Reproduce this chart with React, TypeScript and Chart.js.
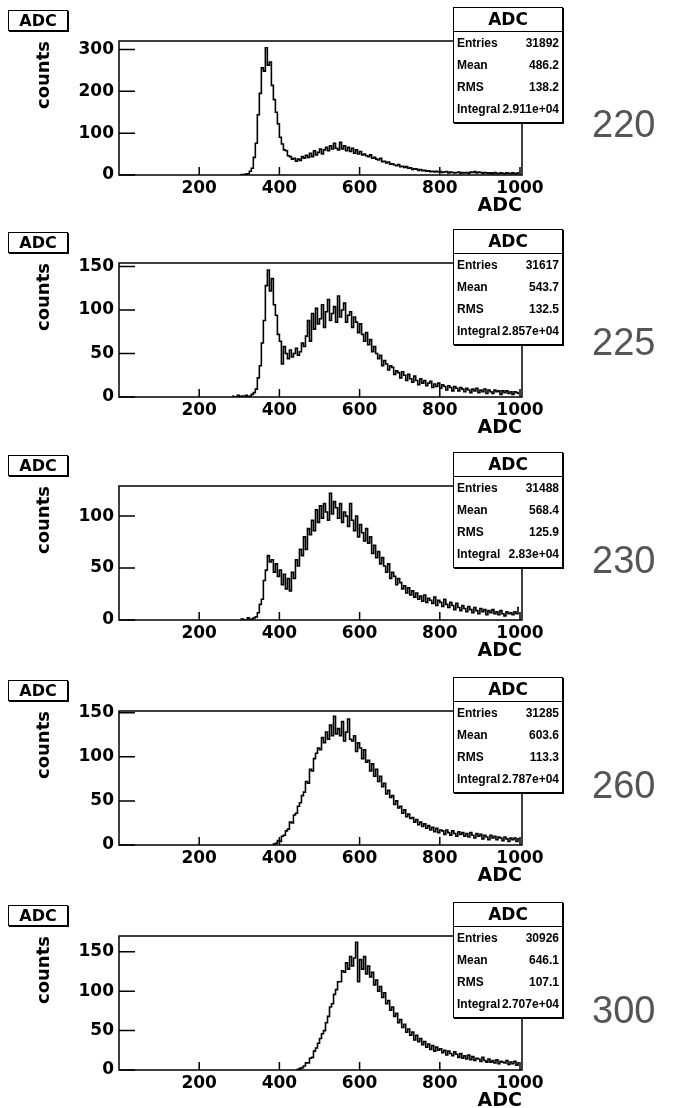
import React, { useEffect, useRef } from "react";
import { Chart, registerables } from "chart.js";

Chart.register(...registerables);

// ---------- data ----------
const BIN_WIDTH = 5;
const X_MIN = 0;
const X_MAX = 1005;
const xTickValues = [200, 400, 600, 800, 1000];

const energies = ["220", "225", "230", "260", "300"];
const entries = ["31892", "31617", "31488", "31285", "30926"];
const means = ["486.2", "543.7", "568.4", "603.6", "646.1"];
const rmsValues = ["138.2", "132.5", "125.9", "113.3", "107.1"];
const integrals = ["2.911e+04", "2.857e+04", "2.83e+04", "2.787e+04", "2.707e+04"];

const yMaxes = [320, 154, 129, 152, 170];
const yTicks220 = [0, 100, 200, 300];
const yTicks225 = [0, 50, 100, 150];
const yTicks230 = [0, 50, 100];
const yTicks260 = [0, 50, 100, 150];
const yTicks300 = [0, 50, 100, 150];

const start220 = 300;
const counts220 = [
  0, 1, 0, 2,
  3, 9, 16, 42, 76, 144, 195, 256,
  248, 304, 262, 270, 214, 180, 150, 122,
  90, 74, 60, 58, 46, 44, 38, 40,
  33, 38, 35, 44, 40, 47, 42, 52,
  44, 58, 48, 54, 62, 50, 60, 66,
  58, 70, 62, 76, 64, 60, 78, 62,
  70, 58, 66, 56, 64, 52, 60, 50,
  56, 48, 50, 46, 44, 48, 40, 42,
  38, 36, 40, 32, 33, 29, 31, 26,
  27, 24, 22, 25, 20, 21, 18, 20,
  16, 17, 13, 15, 14, 11, 13, 10,
  11, 9, 10, 8, 9, 7, 9, 7,
  8, 6, 7, 8, 5, 7, 6, 5,
  6, 7, 4, 6, 5, 6, 4, 7,
  6, 8, 5, 7, 6, 4, 6, 5,
  4, 5, 3, 6, 4, 3, 5, 4,
  3, 5, 4, 3, 5, 3, 4, 5,
];

const start225 = 280;
const counts225 = [
  1, 0, 0, 2, 0, 1, 0, 2,
  0, 1, 3, 5, 9, 22, 36, 62,
  88, 128, 146, 122, 136, 106, 94, 72,
  64, 38, 58, 50, 44, 54, 46, 50,
  56, 48, 52, 62, 58, 70, 88, 64,
  96, 78, 102, 84, 90, 106, 80, 98,
  112, 88, 96, 104, 86, 116, 92, 100,
  108, 86, 94, 98, 80, 92, 86, 74,
  84, 72, 64, 74, 60, 66, 52, 58,
  50, 44, 48, 36, 42, 38, 31, 36,
  34, 26, 30, 28, 22, 29, 25, 19,
  26, 21, 17, 24, 19, 14, 21, 16,
  19, 13, 16, 18, 11, 15, 12, 16,
  10, 14, 12, 8, 13, 11, 7, 12,
  10, 7, 11, 9, 6, 10, 8, 5,
  9, 7, 10, 5, 8, 6, 9, 4,
  8, 6, 4, 8, 6, 7, 3, 7,
  5, 7, 4, 6, 3, 6, 5, 4,
];

const start230 = 300;
const counts230 = [
  0, 1, 0, 0, 2, 0, 1, 2,
  3, 7, 15, 20, 38, 48, 62, 56,
  58, 46, 54, 42, 48, 34, 44, 30,
  40, 28, 46, 40, 58, 52, 68, 62,
  80, 68, 88, 82, 96, 86, 106, 94,
  110, 98, 112, 104, 96, 122, 102, 114,
  108, 98, 112, 94, 104, 100, 90, 112,
  96, 86, 100, 80, 92, 84, 76, 88,
  74, 80, 64, 72, 60, 66, 54, 60,
  52, 46, 54, 40, 46, 42, 34, 40,
  36, 30, 33, 26, 31, 24, 28, 22,
  26, 20, 23, 18, 24, 17, 21, 19,
  16, 22, 14, 19, 17, 13, 20, 15,
  12, 17, 14, 10, 16, 12, 9, 14,
  11, 8, 13, 10, 7, 12, 9, 6,
  11, 8, 10, 5, 9, 7, 10, 6,
  8, 5, 9, 6, 4, 8, 6, 7,
  5, 8, 6, 12,
];

const start260 = 380;
const counts260 = [
  0, 1, 2, 5, 4, 10, 11, 16,
  18, 26, 25, 34, 36, 44, 48, 56,
  60, 72, 70, 86, 84, 98, 104, 110,
  108, 122, 116, 128, 120, 136, 124, 146,
  126, 132, 124, 140, 118, 128, 143, 120,
  118, 124, 106, 116, 110, 98, 108, 94,
  96, 84, 92, 78, 86, 72, 78, 66,
  70, 58, 62, 54, 56, 46, 50, 42,
  44, 36, 40, 32, 35, 30, 31, 26,
  29, 23, 26, 21, 24, 19, 22, 17,
  20, 15, 19, 14, 17, 16, 12, 17,
  14, 11, 16, 13, 10, 15, 12, 14,
  10, 13, 9, 14, 11, 8, 13, 10,
  12, 7, 11, 9, 6, 11, 8, 10,
  6, 9, 8, 5, 9, 7, 4, 8,
  6, 8, 4, 7,
];

const start300 = 440;
const counts300 = [
  0, 1, 2, 3, 5, 9, 9, 15,
  16, 24, 28, 34, 40, 46, 50, 60,
  68, 80, 84, 96, 102, 112, 112, 126,
  124, 136, 128, 144, 132, 142, 162, 112,
  140, 128, 144, 122, 132, 118, 124, 108,
  114, 100, 106, 92, 98, 84, 88, 76,
  80, 68, 72, 60, 64, 54, 58, 48,
  52, 44, 48, 38, 44, 36, 40, 32,
  36, 29, 33, 26, 31, 24, 29, 25,
  27, 22, 25, 19, 24, 21, 18, 23,
  20, 16, 21, 15, 18, 14, 19, 13,
  17, 12, 15, 14, 11, 16, 12, 10,
  14, 10, 12, 9, 13, 8, 11, 10,
  9, 12, 7, 10, 8, 11, 6, 9,
];

const starts = [start220, start225, start230, start260, start300];
const countsList = [counts220, counts225, counts230, counts260, counts300];
const yTicksList = [yTicks220, yTicks225, yTicks230, yTicks260, yTicks300];

// ---------- layout ----------
const PAGE_W = 673;
const PAGE_H = 1108;
const CANVAS_H = 224;
const panelTops = [0, 222, 445, 670, 895];
const numberTops = [105, 101, 96, 96, 96];

const AXIS_FONT = "'DejaVu Sans', 'Liberation Sans', Arial, sans-serif";
const STAT_FONT = "'Liberation Sans', Arial, Helvetica, sans-serif";

const framePlugin = {
  id: "rootFrame",
  afterDatasetsDraw(chart: any) {
    const { ctx, chartArea } = chart;
    const xs = chart.scales.x;
    const ys = chart.scales.y;
    ctx.save();
    ctx.strokeStyle = "#000";
    ctx.lineWidth = 1.5;
    ctx.strokeRect(chartArea.left, chartArea.top, chartArea.right - chartArea.left, chartArea.bottom - chartArea.top);
    ctx.beginPath();
    for (const t of xs.ticks) {
      const px = xs.getPixelForValue(t.value);
      ctx.moveTo(px, chartArea.bottom);
      ctx.lineTo(px, chartArea.bottom - 8);
    }
    for (const t of ys.ticks) {
      const py = ys.getPixelForValue(t.value);
      ctx.moveTo(chartArea.left, py);
      ctx.lineTo(chartArea.left + 16, py);
    }
    ctx.stroke();
    ctx.restore();
  },
};

function HistPanel({ idx }: { idx: number }) {
  const ref = useRef<HTMLCanvasElement>(null);
  useEffect(() => {
    const start = starts[idx];
    const values = countsList[idx];
    const yTicks = yTicksList[idx];
    const data = values.map((v, i) => ({ x: start + BIN_WIDTH * i + BIN_WIDTH / 2, y: v }));
    const chart = new Chart(ref.current as HTMLCanvasElement, {
      type: "line",
      data: {
        datasets: [
          {
            data,
            borderColor: "#000",
            borderWidth: 1.6,
            stepped: "middle",
            pointRadius: 0,
            fill: false,
          } as any,
        ],
      },
      options: {
        responsive: false,
        animation: false,
        devicePixelRatio: 1,
        layout: { padding: { left: 0, right: PAGE_W - 522, top: 41, bottom: 0 } },
        plugins: {
          legend: { display: false },
          tooltip: { enabled: false },
          title: { display: false },
        },
        scales: {
          x: {
            type: "linear",
            min: X_MIN,
            max: X_MAX,
            grid: { display: false, drawTicks: false },
            border: { display: false },
            ticks: {
              color: "#000",
              font: { family: AXIS_FONT, size: 17, weight: "bold" },
              padding: 3,
              maxRotation: 0,
              autoSkip: false,
              callback: (v: any) => String(v),
            },
            afterBuildTicks: (s: any) => {
              s.ticks = xTickValues.map((v) => ({ value: v }));
            },
            afterFit: (s: any) => {
              s.height = CANVAS_H - 175;
            },
            title: {
              display: true,
              text: "ADC",
              align: "end",
              color: "#000",
              font: { family: AXIS_FONT, size: 19, weight: "bold" },
              padding: { top: 0, bottom: 7 },
            },
          },
          y: {
            type: "linear",
            min: 0,
            max: yMaxes[idx],
            grid: { display: false, drawTicks: false },
            border: { display: false },
            ticks: {
              color: "#000",
              font: { family: AXIS_FONT, size: 17, weight: "bold" },
              padding: 5,
              callback: (v: any) => String(v),
            },
            afterBuildTicks: (s: any) => {
              s.ticks = yTicks.map((v) => ({ value: v }));
            },
            afterFit: (s: any) => {
              s.width = 119;
            },
            title: {
              display: true,
              text: "counts",
              align: "end",
              color: "#000",
              font: { family: AXIS_FONT, size: 18, weight: "bold" },
              padding: { top: 34, bottom: 0 },
            },
          },
        },
      } as any,
      plugins: [framePlugin],
    });
    return () => chart.destroy();
  }, [idx]);

  const top = panelTops[idx];
  const rowStyle: React.CSSProperties = {
    position: "absolute",
    left: 3,
    right: 3,
    height: 14,
    lineHeight: "14px",
    display: "flex",
    justifyContent: "space-between",
    whiteSpace: "nowrap",
  };
  return (
    <div style={{ position: "absolute", left: 0, top, width: PAGE_W, height: CANVAS_H }}>
      <canvas ref={ref} width={PAGE_W} height={CANVAS_H} style={{ position: "absolute", left: 0, top: 0, width: PAGE_W, height: CANVAS_H }} />
      <div
        style={{
          position: "absolute",
          left: 8,
          top: 10,
          width: 60,
          height: 21,
          boxSizing: "border-box",
          border: "1px solid #000",
          boxShadow: "1px 1px 0 #000",
          background: "#fff",
          textAlign: "center",
          fontFamily: AXIS_FONT,
          fontWeight: "bold",
          fontSize: 16,
          lineHeight: "19px",
          color: "#000",
        }}
      >
        ADC
      </div>
      <div
        style={{
          position: "absolute",
          left: 453,
          top: 7,
          width: 110,
          height: 116,
          boxSizing: "border-box",
          border: "1px solid #000",
          boxShadow: "1px 1px 0 #000",
          background: "#fff",
          fontFamily: STAT_FONT,
          fontWeight: "bold",
          fontSize: 12,
          color: "#000",
        }}
      >
        <div
          style={{
            height: 23,
            borderBottom: "1px solid #000",
            textAlign: "center",
            fontFamily: AXIS_FONT,
            fontSize: 17,
            lineHeight: "23px",
          }}
        >
          ADC
        </div>
        <div style={{ ...rowStyle, top: 28 }}>
          <span>Entries</span>
          <span>{entries[idx]}</span>
        </div>
        <div style={{ ...rowStyle, top: 50 }}>
          <span>Mean</span>
          <span>{means[idx]}</span>
        </div>
        <div style={{ ...rowStyle, top: 72 }}>
          <span>RMS</span>
          <span>{rmsValues[idx]}</span>
        </div>
        <div style={{ ...rowStyle, top: 94 }}>
          <span>Integral</span>
          <span>{integrals[idx]}</span>
        </div>
      </div>
      <div
        style={{
          position: "absolute",
          left: 592,
          top: numberTops[idx],
          fontFamily: STAT_FONT,
          fontSize: 38,
          lineHeight: "38px",
          color: "#555",
          whiteSpace: "nowrap",
        }}
      >
        {energies[idx]}
      </div>
    </div>
  );
}

export default function App() {
  return (
    <div
      style={{
        position: "absolute",
        left: 0,
        top: 0,
        width: PAGE_W,
        height: PAGE_H,
        overflow: "hidden",
        background: "#fff",
      }}
    >
      {energies.map((_, i) => (
        <HistPanel key={i} idx={i} />
      ))}
    </div>
  );
}
